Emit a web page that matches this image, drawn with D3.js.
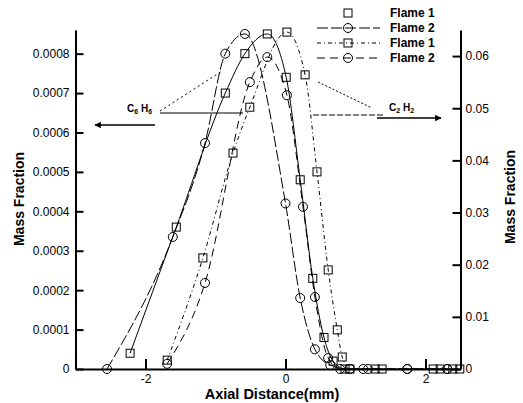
<!DOCTYPE html>
<html><head><meta charset="utf-8">
<script src="https://cdn.jsdelivr.net/npm/d3@7"></script>
<style>
html,body{margin:0;padding:0;background:#fff;}
svg{display:block;font-family:"Liberation Sans",Arial,sans-serif;}
</style></head>
<body><svg id="chart" width="523" height="403"></svg>
<script>
// ---- data ----
const xTicks = [-2, 0, 2];
const xTickLabels = ["-2", "0", "2"];
const leftTicks = [0, 0.0001, 0.0002, 0.0003, 0.0004, 0.0005, 0.0006, 0.0007, 0.0008];
const leftTickLabels = ["0", "0.0001", "0.0002", "0.0003", "0.0004", "0.0005", "0.0006", "0.0007", "0.0008"];
const rightTicks = [0, 0.01, 0.02, 0.03, 0.04, 0.05, 0.06];
const rightTickLabels = ["0", "0.01", "0.02", "0.03", "0.04", "0.05", "0.06"];

// C6H6 (left axis)
const c6h6Flame1X = [-2.22, -1.56, -0.86, -0.58, -0.26, 0.01, 0.21, 0.39, 0.55, 0.68, 0.85, 1.28, 2.21, 2.39];
const c6h6Flame1Y = [0.00004, 0.00036, 0.00070, 0.00080, 0.00085, 0.00074, 0.00048, 0.00023, 0.00008, 0.00002, 0, 0, 0, 0];
const c6h6Flame2X = [-2.55, -1.61, -1.15, -0.86, -0.58, 0.0, 0.21, 0.42, 0.64, 0.92, 1.18, 1.74, 2.31];
const c6h6Flame2Y = [0, 0.000335, 0.000573, 0.00080, 0.00085, 0.00042, 0.00018, 0.00005, 0.00001, 0, 0, 0, 0];
// C2H2 (right axis)
const c2h2Flame1X = [-1.69, -1.18, -0.75, -0.51, 0.02, 0.28, 0.45, 0.61, 0.74, 0.81, 0.92, 1.38, 2.11, 2.49];
const c2h2Flame1Y = [0.0017, 0.0213, 0.0414, 0.0502, 0.0646, 0.0564, 0.0378, 0.0190, 0.0075, 0.0023, 0, 0, 0, 0];
const c2h2Flame2X = [-1.69, -1.15, -0.51, -0.26, 0.02, 0.25, 0.42, 0.61, 0.78, 1.11, 1.74, 2.31];
const c2h2Flame2Y = [0.001, 0.0165, 0.055, 0.0598, 0.0525, 0.0311, 0.0138, 0.0021, 0, 0, 0, 0];

const legendLabels = ["Flame 1", "Flame 2", "Flame 1", "Flame 2"];

// ---- drawing ----
const svg = d3.select("#chart");
const x = d3.scaleLinear().domain([-3, 2.5]).range([75.5, 460.5]);
const yL = d3.scaleLinear().domain([0, 0.00086]).range([369, 30]);
const yR = d3.scaleLinear().domain([0, 0.065]).range([369, 30]);

const series = [
  {xs: c6h6Flame1X, ys: c6h6Flame1Y, y: yL, marker: "square", dash: null},
  {xs: c6h6Flame2X, ys: c6h6Flame2Y, y: yL, marker: "circle", dash: "11,3"},
  {xs: c2h2Flame1X, ys: c2h2Flame1Y, y: yR, marker: "square", dash: "4,3,1,3"},
  {xs: c2h2Flame2X, ys: c2h2Flame2Y, y: yR, marker: "circle", dash: "8,5"}
];

function drawMarker(g, type, cx, cy) {
  if (type === "square") {
    g.append("rect").attr("x", cx - 4).attr("y", cy - 4).attr("width", 8).attr("height", 8)
      .attr("fill", "none").attr("stroke", "#000").attr("stroke-width", 1);
  } else {
    g.append("circle").attr("cx", cx).attr("cy", cy).attr("r", 4.5)
      .attr("fill", "none").attr("stroke", "#000").attr("stroke-width", 1);
  }
}

const plot = svg.append("g");
series.forEach(s => {
  const pts = s.xs.map((v, i) => [v, s.ys[i]]);
  const line = d3.line().x(d => x(d[0])).y(d => s.y(d[1])).curve(d3.curveMonotoneX);
  plot.append("path").attr("d", line(pts)).attr("fill", "none").attr("stroke", "#000")
    .attr("stroke-width", 1).attr("stroke-dasharray", s.dash);
  pts.forEach(p => drawMarker(plot, s.marker, x(p[0]), s.y(p[1])));
});

// axes
const axL = svg.append("g").attr("transform", "translate(75.5,0)")
  .call(d3.axisLeft(yL).tickValues(leftTicks).tickFormat((d, i) => leftTickLabels[i])
    .tickSizeInner(-8).tickSizeOuter(0).tickPadding(6));
const axR = svg.append("g").attr("transform", "translate(460.5,0)")
  .call(d3.axisRight(yR).tickValues(rightTicks).tickFormat((d, i) => rightTickLabels[i])
    .tickSizeInner(-8).tickSizeOuter(0).tickPadding(5));
const axB = svg.append("g").attr("transform", "translate(0,369)")
  .call(d3.axisBottom(x).tickValues(xTicks).tickFormat((d, i) => xTickLabels[i])
    .tickSizeInner(-10).tickSizeOuter(0).tickPadding(5));
[axL, axR, axB].forEach(a => {
  a.select(".domain").attr("stroke-width", 2);
  a.selectAll(".tick line").attr("stroke-width", 2);
  a.selectAll("text").attr("font-size", 12).attr("fill", "#000")
    .attr("font-family", "'Liberation Sans', Arial, sans-serif");
});

// axis titles
svg.append("text").attr("transform", "translate(24,199) rotate(-90)")
  .attr("text-anchor", "middle").attr("font-weight", "bold").attr("font-size", 14)
  .text("Mass Fraction");
svg.append("text").attr("transform", "translate(515,197) rotate(-90)")
  .attr("text-anchor", "middle").attr("font-weight", "bold").attr("font-size", 14)
  .text("Mass Fraction");
svg.append("text").attr("x", 272).attr("y", 399)
  .attr("text-anchor", "middle").attr("font-weight", "bold").attr("font-size", 14.5)
  .text("Axial Distance(mm)");

// legend
const legY = [13, 28, 43, 58];
series.forEach((s, i) => {
  const g = svg.append("g");
  if (i > 0) {
    g.append("line").attr("x1", 317).attr("x2", 380).attr("y1", legY[i]).attr("y2", legY[i])
      .attr("stroke", "#000").attr("stroke-width", 1).attr("stroke-dasharray", s.dash);
  }
  drawMarker(g, s.marker, 348, legY[i]);
  g.append("text").attr("x", 390).attr("y", legY[i] + 4).attr("font-weight", "bold")
    .attr("font-size", 12).text(legendLabels[i]);
});

// annotations
const defs = svg.append("defs");
defs.append("marker").attr("id", "ah").attr("viewBox", "0 0 10 10").attr("refX", 9).attr("refY", 5)
  .attr("markerWidth", 7).attr("markerHeight", 5).attr("orient", "auto-start-reverse")
  .append("path").attr("d", "M0,0L10,5L0,10z").attr("fill", "#000");

function label(xp, yp, a, b) {
  const t = svg.append("text").attr("x", xp).attr("y", yp).attr("font-weight", "bold").attr("font-size", 10);
  t.append("tspan").text("C");
  t.append("tspan").attr("font-size", 7).attr("dy", 2).text(a);
  t.append("tspan").attr("dy", -2).text(" H");
  t.append("tspan").attr("font-size", 7).attr("dy", 2).text(b);
}
label(127, 112, "6", "6");
label(389, 111, "2", "2");

svg.append("line").attr("x1", 160).attr("y1", 113).attr("x2", 243).attr("y2", 113)
  .attr("stroke", "#000").attr("stroke-width", 1);
svg.append("line").attr("x1", 160).attr("y1", 111).attr("x2", 222).attr("y2", 71)
  .attr("stroke", "#000").attr("stroke-width", 1).attr("stroke-dasharray", "2,3");
svg.append("line").attr("x1", 155).attr("y1", 125).attr("x2", 95).attr("y2", 125)
  .attr("stroke", "#000").attr("stroke-width", 1.3).attr("marker-end", "url(#ah)");

svg.append("line").attr("x1", 313).attr("y1", 115).attr("x2", 384).attr("y2", 115)
  .attr("stroke", "#000").attr("stroke-width", 1).attr("stroke-dasharray", "6,2");
svg.append("line").attr("x1", 318).attr("y1", 82).attr("x2", 372).attr("y2", 108)
  .attr("stroke", "#000").attr("stroke-width", 1).attr("stroke-dasharray", "2,2");
svg.append("line").attr("x1", 377).attr("y1", 118).attr("x2", 441).attr("y2", 118)
  .attr("stroke", "#000").attr("stroke-width", 1.3).attr("marker-end", "url(#ah)");
</script>
</body></html>
